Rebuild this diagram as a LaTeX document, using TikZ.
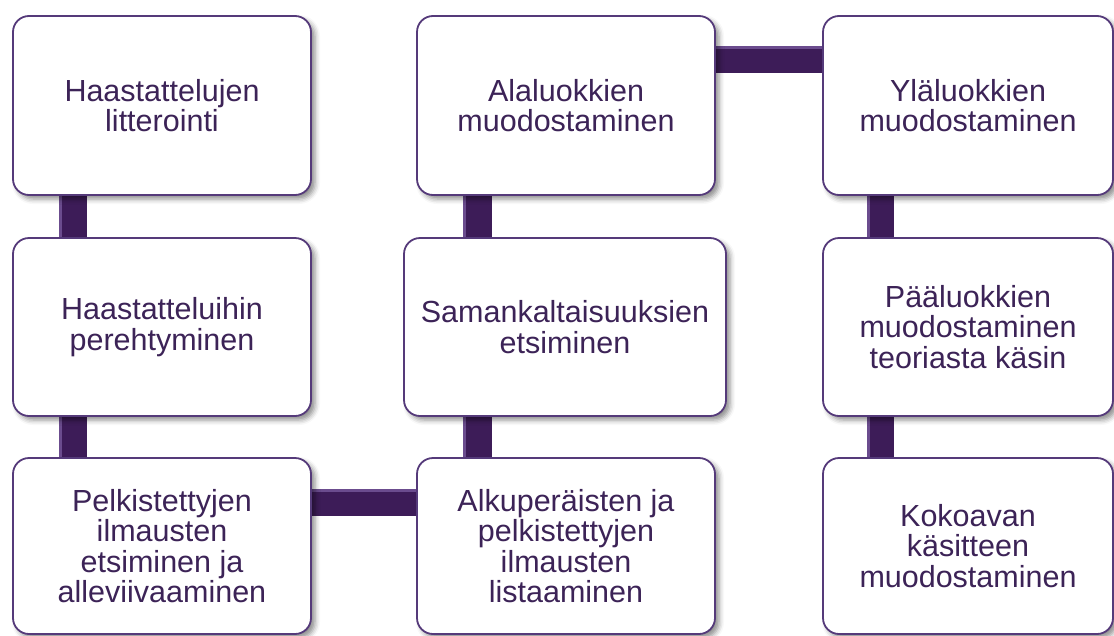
\documentclass[tikz,border=0pt]{standalone}
\usepackage{fontspec}
\setmainfont{Liberation Sans}
\usetikzlibrary{shadows.blur,backgrounds}
\definecolor{txt}{HTML}{3C2357}
\definecolor{edge}{HTML}{553A7A}
\definecolor{bar}{HTML}{3D1C58}
\definecolor{barlight}{HTML}{6B4C8E}
\tikzset{
  stepbox/.style={draw=edge, line width=1.8pt, fill=white, rounded corners=16pt,
    align=center, text=txt, inner sep=0pt,
    font=\fontsize{30.5}{30.5}\selectfont,
    blur shadow={shadow xshift=4pt, shadow yshift=-4pt, shadow blur radius=5pt, shadow opacity=45}},
  barfill/.style={fill=bar},
  barhl/.style={fill=barlight}
}
\begin{document}
\begin{tikzpicture}[x=1pt,y=-1pt]
\useasboundingbox (0,0) rectangle (1114,635);
% column 1
\node[stepbox, minimum width=298pt, minimum height=179pt] (h1) at (162,105.5) {Haastattelujen\\litterointi};
\node[stepbox, minimum width=298pt, minimum height=178pt] (h2) at (162,327) {Haastatteluihin\\perehtyminen};
\node[stepbox, minimum width=298pt, minimum height=176pt] (h3) at (162,546) {Pelkistettyjen\\ilmausten\\etsiminen ja\\alleviivaaminen};
% column 2
\node[stepbox, minimum width=298pt, minimum height=179pt] (a1) at (566,105.5) {Alaluokkien\\muodostaminen};
\node[stepbox, minimum width=322pt, minimum height=178pt] (s2) at (565,327) {Samankaltaisuuksien\\etsiminen};
\node[stepbox, minimum width=298pt, minimum height=176pt] (a3) at (566,546) {Alkuperäisten ja\\pelkistettyjen\\ilmausten\\listaaminen};
% column 3
\node[stepbox, minimum width=290pt, minimum height=179pt] (y1) at (968,105.5) {Yläluokkien\\muodostaminen};
\node[stepbox, minimum width=290pt, minimum height=178pt] (p2) at (968,327) {Pääluokkien\\muodostaminen\\teoriasta käsin};
\node[stepbox, minimum width=290pt, minimum height=176pt] (k3) at (968,546) {Kokoavan\\käsitteen\\muodostaminen};
% connectors
\begin{scope}[on background layer]
\fill[barfill] ([xshift=47pt]h1.south west) rectangle ([xshift=75pt]h2.north west);
\fill[barhl] ([xshift=47pt]h1.south west) rectangle ([xshift=50pt]h2.north west);
\fill[barfill] ([xshift=47pt]h2.south west) rectangle ([xshift=75pt]h3.north west);
\fill[barhl] ([xshift=47pt]h2.south west) rectangle ([xshift=50pt]h3.north west);
\fill[barfill] ([yshift=-32pt]h3.north east) rectangle ([yshift=-59pt]a3.north west);
\fill[barhl] ([yshift=-32pt]h3.north east) rectangle ([yshift=-35pt]a3.north west);
\fill[barfill] ([xshift=47pt]a3.north west) rectangle ([xshift=76pt]a3.north west |- s2.south);
\fill[barhl] ([xshift=47pt]a3.north west) rectangle ([xshift=50pt]a3.north west |- s2.south);
\fill[barfill] ([xshift=47pt]a1.south west) rectangle ([xshift=76pt]a1.south west |- s2.north);
\fill[barhl] ([xshift=47pt]a1.south west) rectangle ([xshift=50pt]a1.south west |- s2.north);
\fill[barfill] ([yshift=-31pt]a1.north east) rectangle ([yshift=-58pt]y1.north west);
\fill[barhl] ([yshift=-31pt]a1.north east) rectangle ([yshift=-34pt]y1.north west);
\fill[barfill] ([xshift=45pt]y1.south west) rectangle ([xshift=72pt]p2.north west);
\fill[barhl] ([xshift=45pt]y1.south west) rectangle ([xshift=48pt]p2.north west);
\fill[barfill] ([xshift=45pt]p2.south west) rectangle ([xshift=72pt]k3.north west);
\fill[barhl] ([xshift=45pt]p2.south west) rectangle ([xshift=48pt]k3.north west);
\end{scope}
\end{tikzpicture}
\end{document}
